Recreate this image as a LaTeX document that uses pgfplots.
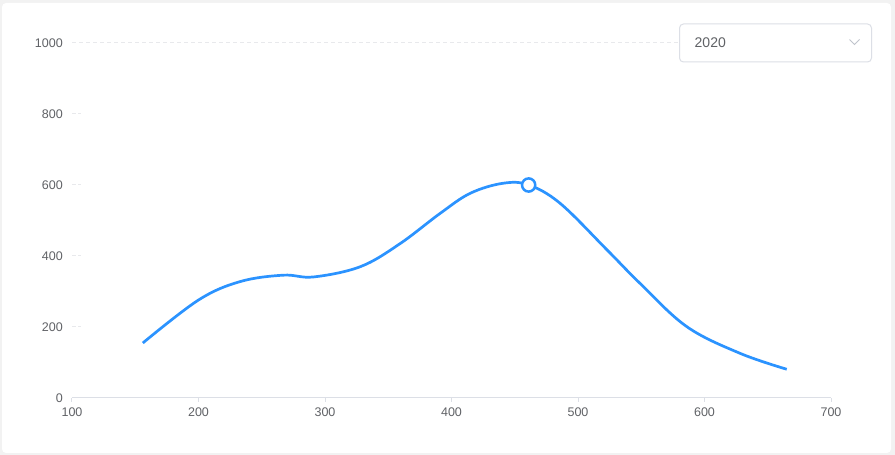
\documentclass[border=0pt]{standalone}
\usepackage{fontspec}
\setmainfont{Liberation Sans}
\usepackage{pgfplots}
\pgfplotsset{compat=1.18}
\definecolor{bgc}{RGB}{242,242,242}
\definecolor{linec}{RGB}{43,147,255}
\definecolor{axisc}{RGB}{220,223,230}
\definecolor{gridc}{RGB}{232,233,236}
\definecolor{tickc}{RGB}{96,98,102}
\definecolor{chevc}{RGB}{192,196,204}
\begin{document}
\begin{tikzpicture}[x=1pt,y=1pt]
\fill[bgc] (0,0) rectangle (895,455);
\fill[white, rounded corners=4pt] (2,2) rectangle (891,452);
% grid lines
\draw[gridc, line width=1pt, dash pattern=on 4pt off 3pt] (72,412) -- (678,412);
\foreach \k in {1,2,3,4}{
  \draw[gridc, line width=1pt, dash pattern=on 4pt off 2pt] (72,{57+71*\k}) -- (81,{57+71*\k});
}
\begin{axis}[
  at={(72pt,57pt)}, anchor=south west,
  scale only axis, width=759pt, height=355pt,
  xmin=100, xmax=700, ymin=0, ymax=1000,
  xtick={100,200,...,700}, ytick={0,200,...,1000},
  axis x line*=bottom, axis y line*=left,
  x axis line style={-, color=axisc, line width=1pt},
  y axis line style={draw=none},
  xtick style={color=axisc, line width=1pt},
  ytick style={draw=none},
  tick align=outside, major tick length=4pt,
  tick label style={font=\fontsize{12.5}{15}\selectfont, text=tickc},
  /pgf/number format/assume math mode=true,
  /pgf/number format/1000 sep={},
  yticklabel style={anchor=east, inner sep=0pt, xshift=-5pt},
  xticklabel style={anchor=north, inner sep=0pt, yshift=-6pt},
  clip=false,
]
\addplot[linec, line width=2.7pt, smooth, tension=0.6] coordinates {
(156,155) (200,276) (233,328) (267,346) (291,341) (328,370)
(359,434) (391,520) (415,577) (441,605) (461,600)
(486,548) (523,417) (549,323) (586,201)
(628,126) (665,81)
};
\addplot[only marks, mark=*, mark size=6.6pt, mark options={fill=white, draw=linec, line width=2.5pt}] coordinates {(461,600)};
\end{axis}
% dropdown
\draw[axisc, line width=1pt, fill=white, rounded corners=4pt] (679.5,393) rectangle (871.5,431);
\node[anchor=west, inner sep=0pt, text=tickc, font=\fontsize{14}{16}\selectfont] at (694.5,412.3) {2020};
\draw[chevc, line width=1pt] (849.5,415.5) -- (854.5,410.5) -- (859.5,415.5);
\end{tikzpicture}
\end{document}
